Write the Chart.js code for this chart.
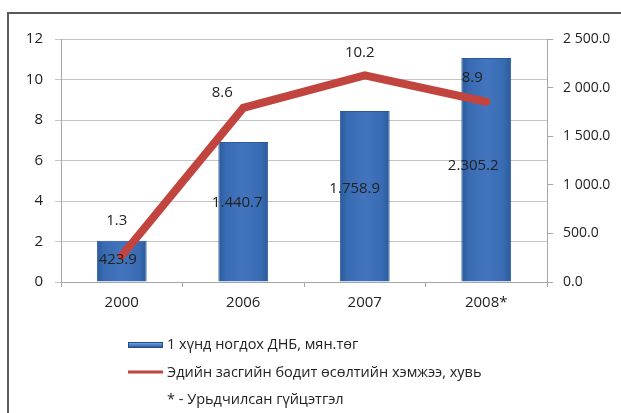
<!DOCTYPE html>
<html>
<head>
<meta charset="utf-8">
<script src="https://cdn.jsdelivr.net/npm/chart.js@4/dist/chart.umd.min.js"></script>
<style>
  html, body { margin: 0; padding: 0; background: #fff; }
</style>
</head>
<body>
<canvas id="chart" width="621" height="413"></canvas>
<script>
// data
var years = ['2000', '2006', '2007', '2008*'];
var gdpPerCapita = [423.9, 1440.7, 1758.9, 2305.2];   // bars, right axis
var gdpText = ['423.9', '1.440.7', '1.758.9', '2.305.2'];
var growthRate = [1.3, 8.6, 10.2, 8.9];                // line, left axis
var gdpName = '1 хүнд ногдох ДНБ, мян.төг';
var growthName = 'Эдийн засгийн бодит өсөлтийн хэмжээ, хувь';
var noteText = '* - Урьдчилсан гүйцэтгэл';

var FONT = '"Open Sans", "Noto Sans", sans-serif';
var TXT = '#222222';
var RED = '#C1443E';

function fmtRight(v) {
  var s = v.toFixed(1).split('.');
  return s[0].replace(/\B(?=(\d{3})+(?!\d))/g, ' ') + '.' + s[1];
}

// glossy-ish bar fill
function barFill(c) {
  var chart = c.chart;
  var xs = chart.scales.x;
  var cx = xs ? xs.getPixelForValue(c.dataIndex) : NaN;
  if (!isFinite(cx)) return '#3A6CB3';
  var g = chart.ctx.createLinearGradient(cx - 25, 0, cx + 25, 0);
  g.addColorStop(0, '#2A5A9C');
  g.addColorStop(0.15, '#386BB2');
  g.addColorStop(0.5, '#4275BE');
  g.addColorStop(0.85, '#386BB2');
  g.addColorStop(1, '#2A5A9C');
  return g;
}

var frame = {
  id: 'frame',
  beforeDraw: function (chart) {
    var ctx = chart.ctx;
    ctx.save();
    ctx.fillStyle = '#fff';
    ctx.fillRect(0, 0, chart.width, chart.height);
    ctx.strokeStyle = '#5a5a5a';
    ctx.lineWidth = 2;
    ctx.strokeRect(8, 13, 700, 500);
    ctx.restore();
  }
};

var valueLabels = {
  id: 'valueLabels',
  afterDatasetsDraw: function (chart) {
    var ctx = chart.ctx;
    ctx.save();
    ctx.font = '15px ' + FONT;
    ctx.fillStyle = TXT;
    ctx.textAlign = 'center';
    ctx.textBaseline = 'middle';
    var barOff = [[-4, -1], [-6, -9], [-10, -8], [-13, -4]];
    var lineOff = [[-5, -35], [-21, -15], [-5, -23], [-14, -24]];
    chart.getDatasetMeta(0).data.forEach(function (b, i) {
      ctx.fillText(gdpText[i], b.x + barOff[i][0], (b.y + b.base) / 2 + barOff[i][1]);
    });
    chart.getDatasetMeta(1).data.forEach(function (p, i) {
      ctx.fillText(growthRate[i].toFixed(1), p.x + lineOff[i][0], p.y + lineOff[i][1]);
    });
    ctx.restore();
  }
};

var sideLegend = {
  id: 'sideLegend',
  afterDraw: function (chart) {
    var ctx = chart.ctx;
    var ds = chart.data.datasets;
    ctx.save();
    // bar swatch
    var g = ctx.createLinearGradient(0, 342, 0, 348);
    g.addColorStop(0, '#8FB2E0');
    g.addColorStop(0.5, '#4A7EC4');
    g.addColorStop(1, '#234F8E');
    ctx.fillStyle = g;
    ctx.fillRect(128, 342, 35, 6);
    ctx.strokeStyle = '#234F8E';
    ctx.lineWidth = 1;
    ctx.strokeRect(128.5, 342.5, 34, 5);
    // line swatch
    ctx.strokeStyle = RED;
    ctx.lineWidth = 3;
    ctx.beginPath();
    ctx.moveTo(128, 372);
    ctx.lineTo(163, 372);
    ctx.stroke();
    ctx.font = '14.5px ' + FONT;
    ctx.fillStyle = TXT;
    ctx.textAlign = 'left';
    ctx.textBaseline = 'middle';
    ctx.fillText(ds[0].label, 167, 345);
    ctx.fillText(ds[1].label, 167, 373);
    ctx.fillText(noteText, 167, 400);
    ctx.restore();
  }
};

new Chart(document.getElementById('chart'), {
  data: {
    labels: years,
    datasets: [
      {
        type: 'bar',
        label: gdpName,
        data: gdpPerCapita,
        yAxisID: 'yR',
        backgroundColor: barFill,
        borderColor: '#2A5A9C',
        borderWidth: 1,
        categoryPercentage: 0.41,
        barPercentage: 1,
        order: 2
      },
      {
        type: 'line',
        label: growthName,
        data: growthRate,
        yAxisID: 'yL',
        borderColor: RED,
        borderWidth: 8,
        pointRadius: 0,
        tension: 0,
        borderCapStyle: 'round',
        order: 1
      }
    ]
  },
  options: {
    responsive: false,
    animation: false,
    layout: { padding: { top: 39, left: 0, right: 0, bottom: 0 } },
    plugins: {
      legend: { display: false },
      tooltip: { enabled: false }
    },
    scales: {
      x: {
        offset: true,
        grid: { offset: true, drawOnChartArea: false, drawTicks: true, tickLength: 5, color: '#A6A6A6' },
        border: { display: true, color: '#A6A6A6' },
        ticks: { color: TXT, font: { family: FONT, size: 15 }, padding: 7 },
        afterFit: function (s) { s.height = 131; }
      },
      yL: {
        position: 'left',
        min: 0, max: 12,
        ticks: { stepSize: 2, color: TXT, font: { family: FONT, size: 15 }, padding: 12 },
        grid: { color: '#C4C4C4', tickLength: 6 },
        border: { display: true, color: '#A6A6A6' },
        afterFit: function (s) { s.width = 61; }
      },
      yR: {
        position: 'right',
        min: 0, max: 2500,
        ticks: { stepSize: 500, color: TXT, font: { family: FONT, size: 14 }, padding: 10,
          callback: function (v) { return fmtRight(v); } },
        grid: { drawOnChartArea: false, tickLength: 6, color: '#A6A6A6' },
        border: { display: true, color: '#A6A6A6' },
        afterFit: function (s) { s.width = 74; }
      }
    }
  },
  plugins: [frame, valueLabels, sideLegend]
});
</script>
</body>
</html>
